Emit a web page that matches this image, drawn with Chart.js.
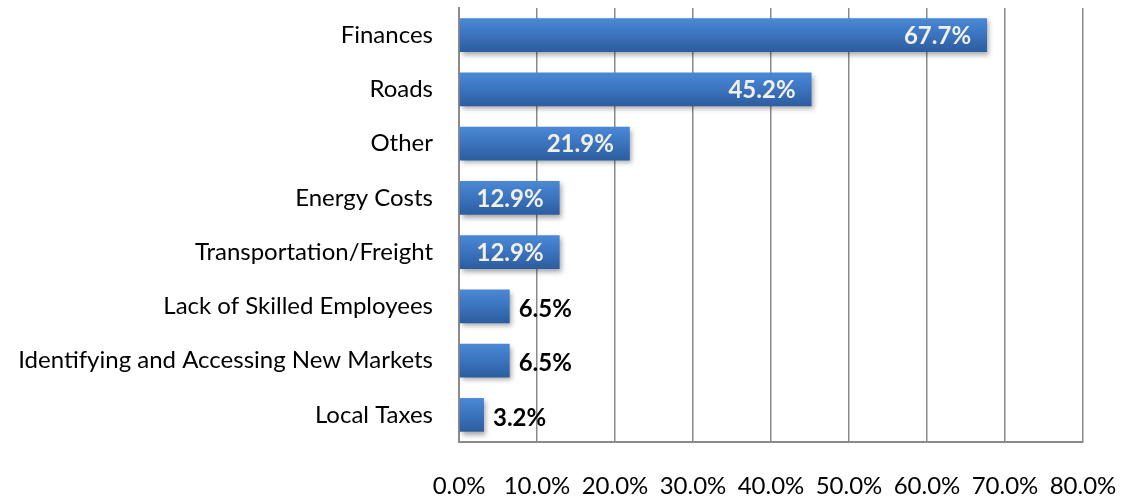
<!DOCTYPE html>
<html><head><meta charset="utf-8">
<script src="https://cdn.jsdelivr.net/npm/chart.js@4/dist/chart.umd.min.js"></script>
<style>html,body{margin:0;padding:0;background:#fff}#wrap{width:1123px;height:496px}</style>
</head><body><div id="wrap"><canvas id="c" width="1123" height="496"></canvas></div>
<script>
const categories = ["Finances","Roads","Other","Energy Costs","Transportation/Freight","Lack of Skilled Employees","Identifying and Accessing New Markets","Local Taxes"];
const values = [67.7,45.2,21.9,12.9,12.9,6.5,6.5,3.2];
const xTicks = [0,10,20,30,40,50,60,70,80];
const FONT = "Lato, 'Open Sans', sans-serif";

const shadowPlugin = {
  id:'shadow',
  beforeDatasetsDraw(chart){const c=chart.ctx;c.save();c.shadowColor='rgba(0,0,0,0.35)';c.shadowBlur=5;c.shadowOffsetX=2;c.shadowOffsetY=3;},
  afterDatasetsDraw(chart){chart.ctx.restore();}
};
const labelPlugin = {
  id:'labels',
  afterDatasetsDraw(chart){
    const c=chart.ctx; const meta=chart.getDatasetMeta(0);
    c.save(); c.font="bold 24px "+FONT; c.textBaseline='middle';
    meta.data.forEach((bar,i)=>{
      const v=values[i]; const t=v.toFixed(1)+'%';
      if(v>10){c.fillStyle='#f2f0e6';c.textAlign='right';c.fillText(t,bar.x-16,bar.y+1);}
      else{c.fillStyle='#000';c.textAlign='left';c.fillText(t,bar.x+9,bar.y+3);}
    });
    c.restore();
  }
};
new Chart(document.getElementById('c'),{
  type:'bar',
  data:{labels:categories,datasets:[{data:values,
    backgroundColor(ctx){
      const ys=ctx.chart.scales&&ctx.chart.scales.y;
      if(!ys) return '#3a72bf';
      const y=ys.getPixelForValue(ctx.dataIndex);
      const h=33;
      if(!isFinite(y)) return '#3a72bf';
      const g=ctx.chart.ctx.createLinearGradient(0,y-h/2,0,y+h/2);
      g.addColorStop(0,'#4a88d6');g.addColorStop(0.5,'#3b73be');g.addColorStop(1,'#2c5d9f');return g;},
    borderWidth:0,barPercentage:0.62,categoryPercentage:1}]},
  options:{indexAxis:'y',responsive:false,animation:false,
    layout:{padding:{top:8,right:40,left:0,bottom:0}},
    plugins:{legend:{display:false},tooltip:{enabled:false}},
    scales:{
      x:{min:0,max:80,
        afterBuildTicks(s){s.ticks=xTicks.map(v=>({value:v}));},
        afterFit(s){s.height=54;s.paddingLeft=0;s.paddingRight=0;s.paddingTop=0;s.paddingBottom=0;},
        grid:{color:'#8a8a8a',lineWidth:1.5,drawTicks:false},
        border:{color:'#8a8a8a',width:2},
        ticks:{padding:30,color:'#000',font:{family:FONT,size:24},callback:v=>v.toFixed(1)+'%',maxRotation:0}},
      y:{afterFit(s){s.width=459;s.paddingTop=0;s.paddingBottom=0;},
        grid:{display:false,drawTicks:false},
        border:{color:'#8a8a8a',width:2},
        ticks:{padding:26,color:'#000',font:{family:FONT,size:24}}}
    }},
  plugins:[shadowPlugin,labelPlugin]
});
</script></body></html>
